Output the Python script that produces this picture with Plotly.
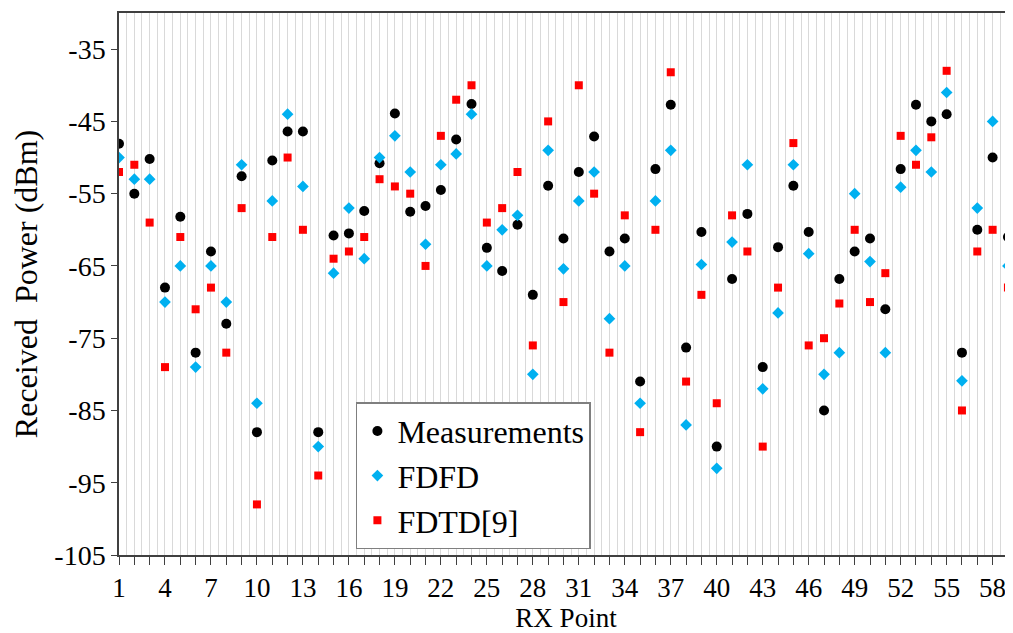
import plotly.graph_objects as go

rx_points = list(range(1, 60))

measurements = [-48.1, -55.0, -50.2, -68.0, -58.2, -77.0, -63.0, -73.0, -52.6, -88.0,
                -50.4, -46.4, -46.4, -88.0, -60.8, -60.5, -57.4, -50.8, -43.9, -57.5,
                -56.7, -54.5, -47.5, -42.6, -62.5, -65.7, -59.3, -69.0, -53.9, -61.2,
                -52.0, -47.1, -63.0, -61.2, -81.0, -51.6, -42.7, -76.3, -60.3, -90.0,
                -66.8, -57.8, -79.0, -62.4, -53.9, -60.3, -85.0, -66.8, -63.0, -61.2,
                -71.0, -51.6, -42.7, -45.0, -44.0, -77.0, -60.0, -50.0, -61.0]

fdfd = [-50.0, -53.0, -53.0, -70.0, -65.0, -79.0, -65.0, -70.0, -51.0, -84.0,
        -56.0, -44.0, -54.0, -90.0, -66.0, -57.0, -64.0, -50.0, -47.0, -52.0,
        -62.0, -51.0, -49.5, -44.0, -65.0, -60.0, -58.0, -80.0, -49.0, -65.4,
        -56.0, -52.0, -72.3, -65.0, -84.0, -56.0, -49.0, -87.0, -64.8, -93.0,
        -61.7, -51.0, -82.0, -71.5, -51.0, -63.3, -80.0, -77.0, -55.0, -64.4,
        -77.0, -54.1, -49.0, -52.0, -41.0, -80.9, -57.0, -45.0, -65.0]

fdtd = [-52.0, -51.0, -59.0, -79.0, -61.0, -71.0, -68.0, -77.0, -57.0, -98.0,
        -61.0, -50.0, -60.0, -94.0, -64.0, -63.0, -61.0, -53.0, -54.0, -55.0,
        -65.0, -47.0, -42.0, -40.0, -59.0, -57.0, -52.0, -76.0, -45.0, -70.0,
        -40.0, -55.0, -77.0, -58.0, -88.0, -60.0, -38.2, -81.0, -69.0, -84.0,
        -58.0, -63.0, -90.0, -68.0, -48.0, -76.0, -75.0, -70.2, -60.0, -70.0,
        -66.0, -47.0, -51.0, -47.2, -38.0, -85.0, -63.0, -60.0, -68.0]

x_tick_labels = [str(v) if (v - 1) % 3 == 0 else "" for v in rx_points]
y_tick_vals = [-35, -45, -55, -65, -75, -85, -95, -105]
y_tick_labels = ["-35", "-45", "-55", "-65", "-75", "-85", "-95", "-105"]

FONT = "Times New Roman"

fig = go.Figure()
fig.add_trace(go.Scatter(x=rx_points, y=measurements, mode="markers", name="Measurements",
                         marker=dict(symbol="circle", size=10, color="black")))
fig.add_trace(go.Scatter(x=rx_points, y=fdfd, mode="markers", name="FDFD",
                         marker=dict(symbol="diamond", size=9, color="#00B0F0")))
fig.add_trace(go.Scatter(x=rx_points, y=fdtd, mode="markers", name="FDTD[9]",
                         marker=dict(symbol="square", size=8, color="#FF0000")))

# page body has an 8px default margin: compensate so the plot area sits where the reference has it
fig.update_layout(
    width=1005, height=625,
    margin=dict(l=111, r=0, t=5, b=78),
    plot_bgcolor="white", paper_bgcolor="white",
    font=dict(family=FONT, color="black", size=28),
    legend=dict(x=0.265, y=0.282, xanchor="left", yanchor="top",
                bgcolor="white", bordercolor="#7f7f7f", borderwidth=1.5,
                font=dict(family=FONT, size=32), tracegroupgap=0),
    xaxis=dict(
        range=[1, 59.33], automargin=False,
        tickmode="array", tickvals=rx_points, ticktext=x_tick_labels,
        ticks="outside", ticklen=8, tickcolor="#404040", tickwidth=1.2,
        showline=True, linecolor="#404040", linewidth=1.5, mirror=True,
        showgrid=True, gridcolor="#d9d9d9", gridwidth=1,
        minor=dict(dtick=0.5, tick0=1, showgrid=True, gridcolor="#d9d9d9", gridwidth=1, ticks=""),
        zeroline=False,
        title=dict(text="RX Point", font=dict(family=FONT, size=27), standoff=4),
        tickfont=dict(family=FONT, size=27),
    ),
    yaxis=dict(
        range=[-105, -30], automargin=False,
        tickmode="array", tickvals=y_tick_vals, ticktext=y_tick_labels,
        ticks="outside", ticklen=6, tickcolor="#404040", tickwidth=1.2,
        showline=True, linecolor="#404040", linewidth=1.5,
        showgrid=False, zeroline=False,
        title=dict(text="Received  Power (dBm)", font=dict(family=FONT, size=32), standoff=22),
        tickfont=dict(family=FONT, size=28),
    ),
)

fig.write_html("out.html")
